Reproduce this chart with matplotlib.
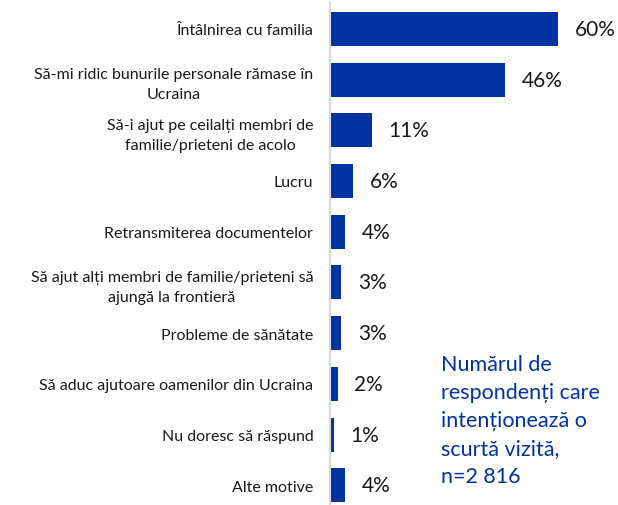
import matplotlib.pyplot as plt

# Motivele vizitei scurte (%)
categories = [
    "Întâlnirea cu familia",
    "Să-mi ridic bunurile personale rămase în\nUcraina",
    "Să-i ajut pe ceilalți membri de\nfamilie/prieteni de acolo",
    "Lucru",
    "Retransmiterea documentelor",
    "Să ajut alți membri de familie/prieteni să\najungă la frontieră",
    "Probleme de sănătate",
    "Să aduc ajutoare oamenilor din Ucraina",
    "Nu doresc să răspund",
    "Alte motive",
]
values = [60, 46, 11, 6, 4, 3, 3, 2, 1, 4]
labels = ["60%", "46%", "11%", "6%", "4%", "3%", "3%", "2%", "1%", "4%"]
note = "Numărul de\nrespondenți care\nintenționează o\nscurtă vizită,\nn=2 816"

blue = "#0033a0"
plt.rcParams['font.family'] = ['Lato', 'DejaVu Sans']

fig = plt.figure(figsize=(6.18, 5.06), dpi=100)
ax = fig.add_axes([330 / 618, 0, 288 / 618, 502 / 506])

pos = list(range(len(categories)))
ax.barh(pos, values, height=0.67, color=blue)
ax.set_xlim(0, 288 / 3.8)
ax.set_ylim(9.39, -0.51)

ax.set_yticks(pos)
ax.set_yticklabels(categories, fontsize=11.5, color="#1a1a1a")
for t in ax.get_yticklabels():
    t.set_multialignment('center')
    t.set_linespacing(1.55)
ax.tick_params(axis='y', length=0, pad=12)
ax.set_xticks([])

for s in ['top', 'right', 'bottom']:
    ax.spines[s].set_visible(False)
ax.spines['left'].set_color('#d9d9d9')
ax.spines['left'].set_linewidth(1.5)

for p, v, lab in zip(pos, values, labels):
    ax.annotate(lab, (v, p), xytext=(12, 0), textcoords='offset points',
                va='center', ha='left', fontsize=15, color="#1a1a1a")

fig.text(441 / 618, 1 - 421 / 506, note, color=blue, fontsize=15.5,
         ha='left', va='center', linespacing=1.5)

fig.savefig("out.png", dpi=100)
